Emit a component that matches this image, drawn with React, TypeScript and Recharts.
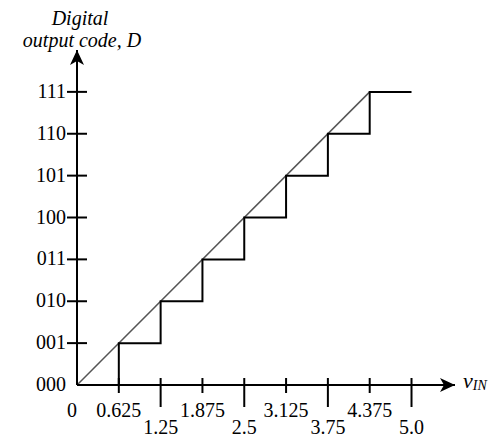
import React from "react";
import { ComposedChart, Line, XAxis, YAxis, ReferenceDot } from "recharts";

const xTickValues = [0, 0.625, 1.25, 1.875, 2.5, 3.125, 3.75, 4.375, 5.0];
const xTickLabels = ["0", "0.625", "1.25", "1.875", "2.5", "3.125", "3.75", "4.375", "5.0"];
const yTickValues = [0, 1, 2, 3, 4, 5, 6, 7];
const yTickLabels = ["000", "001", "010", "011", "100", "101", "110", "111"];
const stairVin = [0, 0.625, 1.25, 1.875, 2.5, 3.125, 3.75, 4.375, 5.0];
const stairCode = [0, 1, 2, 3, 4, 5, 6, 7, 7];
const idealVin = [0, 4.375];
const idealCode = [0, 7];
const xMax = 5.65;
const yMax = 8;

const stairData = stairVin.map((x, i) => ({ x, y: stairCode[i] }));
const idealData = idealVin.map((x, i) => ({ x, y: idealCode[i] }));

const FONT = "'Liberation Serif', 'Times New Roman', serif";

function XTick(props: any) {
  const { x, y, payload } = props;
  const i = xTickValues.indexOf(payload.value);
  const label = xTickLabels[i];
  if (i === 0) {
    return (
      <text x={x - 5} y={y + 32} textAnchor="middle" fontFamily={FONT} fontSize={20} fill="#000">
        {label}
      </text>
    );
  }
  const odd = i % 2 === 1;
  return (
    <g>
      <line x1={x} x2={x} y1={y - 7} y2={odd ? y + 8 : y + 22} stroke="#000" strokeWidth={2} />
      <text x={x} y={odd ? y + 32 : y + 49} textAnchor="middle" fontFamily={FONT} fontSize={20} fill="#000">
        {label}
      </text>
    </g>
  );
}

function YTick(props: any) {
  const { x, y, payload } = props;
  const i = yTickValues.indexOf(payload.value);
  const label = yTickLabels[i];
  return (
    <g>
      {i > 0 && <line x1={x - 10} x2={x + 10} y1={y} y2={y} stroke="#000" strokeWidth={2} />}
      <text x={x - 11} y={y + 6} textAnchor="end" fontFamily={FONT} fontSize={20} fill="#000">
        {label}
      </text>
    </g>
  );
}

function XArrow(props: any) {
  const { cx, cy } = props;
  return (
    <g>
      <path d={`M${cx} ${cy} L${cx - 15} ${cy - 7} L${cx - 11} ${cy} L${cx - 15} ${cy + 7} Z`} fill="#000" />
      <text x={cx + 8} y={cy + 3} fontFamily={FONT} fontStyle="italic" fontSize={22} fill="#000">
        v
        <tspan fontSize={14} dy={2}>IN</tspan>
      </text>
    </g>
  );
}

function YArrow(props: any) {
  const { cx, cy } = props;
  return (
    <g>
      <path d={`M${cx} ${cy} L${cx - 7} ${cy + 15} L${cx} ${cy + 11} L${cx + 7} ${cy + 15} Z`} fill="#000" />
      <text x={cx + 3} y={cy - 25} textAnchor="middle" fontFamily={FONT} fontStyle="italic" fontSize={20} fill="#000">
        Digital
      </text>
      <text x={cx + 5} y={cy - 3} textAnchor="middle" fontFamily={FONT} fontStyle="italic" fontSize={20} fill="#000">
        output code, D
      </text>
    </g>
  );
}

export default function App() {
  return (
    <div style={{ position: "absolute", left: 0, top: 0, width: 495, height: 438, background: "#fff" }}>
      <ComposedChart width={495} height={438} margin={{ top: 50, right: 40, bottom: 0, left: 0 }}>
        <XAxis
          type="number"
          dataKey="x"
          domain={[0, xMax]}
          ticks={xTickValues}
          interval={0}
          allowDataOverflow
          height={53}
          tickSize={0}
          tickMargin={0}
          tickLine={false}
          axisLine={{ stroke: "#000", strokeWidth: 2 }}
          tick={(p: any) => <XTick {...p} />}
        />
        <YAxis
          type="number"
          dataKey="y"
          domain={[0, yMax]}
          ticks={yTickValues}
          interval={0}
          allowDataOverflow
          width={77}
          tickSize={0}
          tickMargin={0}
          tickLine={false}
          axisLine={{ stroke: "#000", strokeWidth: 2 }}
          tick={(p: any) => <YTick {...p} />}
        />
        <Line
          data={idealData}
          dataKey="y"
          type="linear"
          stroke="#555"
          strokeWidth={1.5}
          dot={false}
          activeDot={false}
          isAnimationActive={false}
        />
        <Line
          data={stairData}
          dataKey="y"
          type="stepAfter"
          stroke="#000"
          strokeWidth={2}
          dot={false}
          activeDot={false}
          isAnimationActive={false}
        />
        <ReferenceDot x={xMax} y={0} r={0} ifOverflow="visible" shape={(p: any) => <XArrow {...p} />} />
        <ReferenceDot x={0} y={yMax} r={0} ifOverflow="visible" shape={(p: any) => <YArrow {...p} />} />
      </ComposedChart>
    </div>
  );
}
